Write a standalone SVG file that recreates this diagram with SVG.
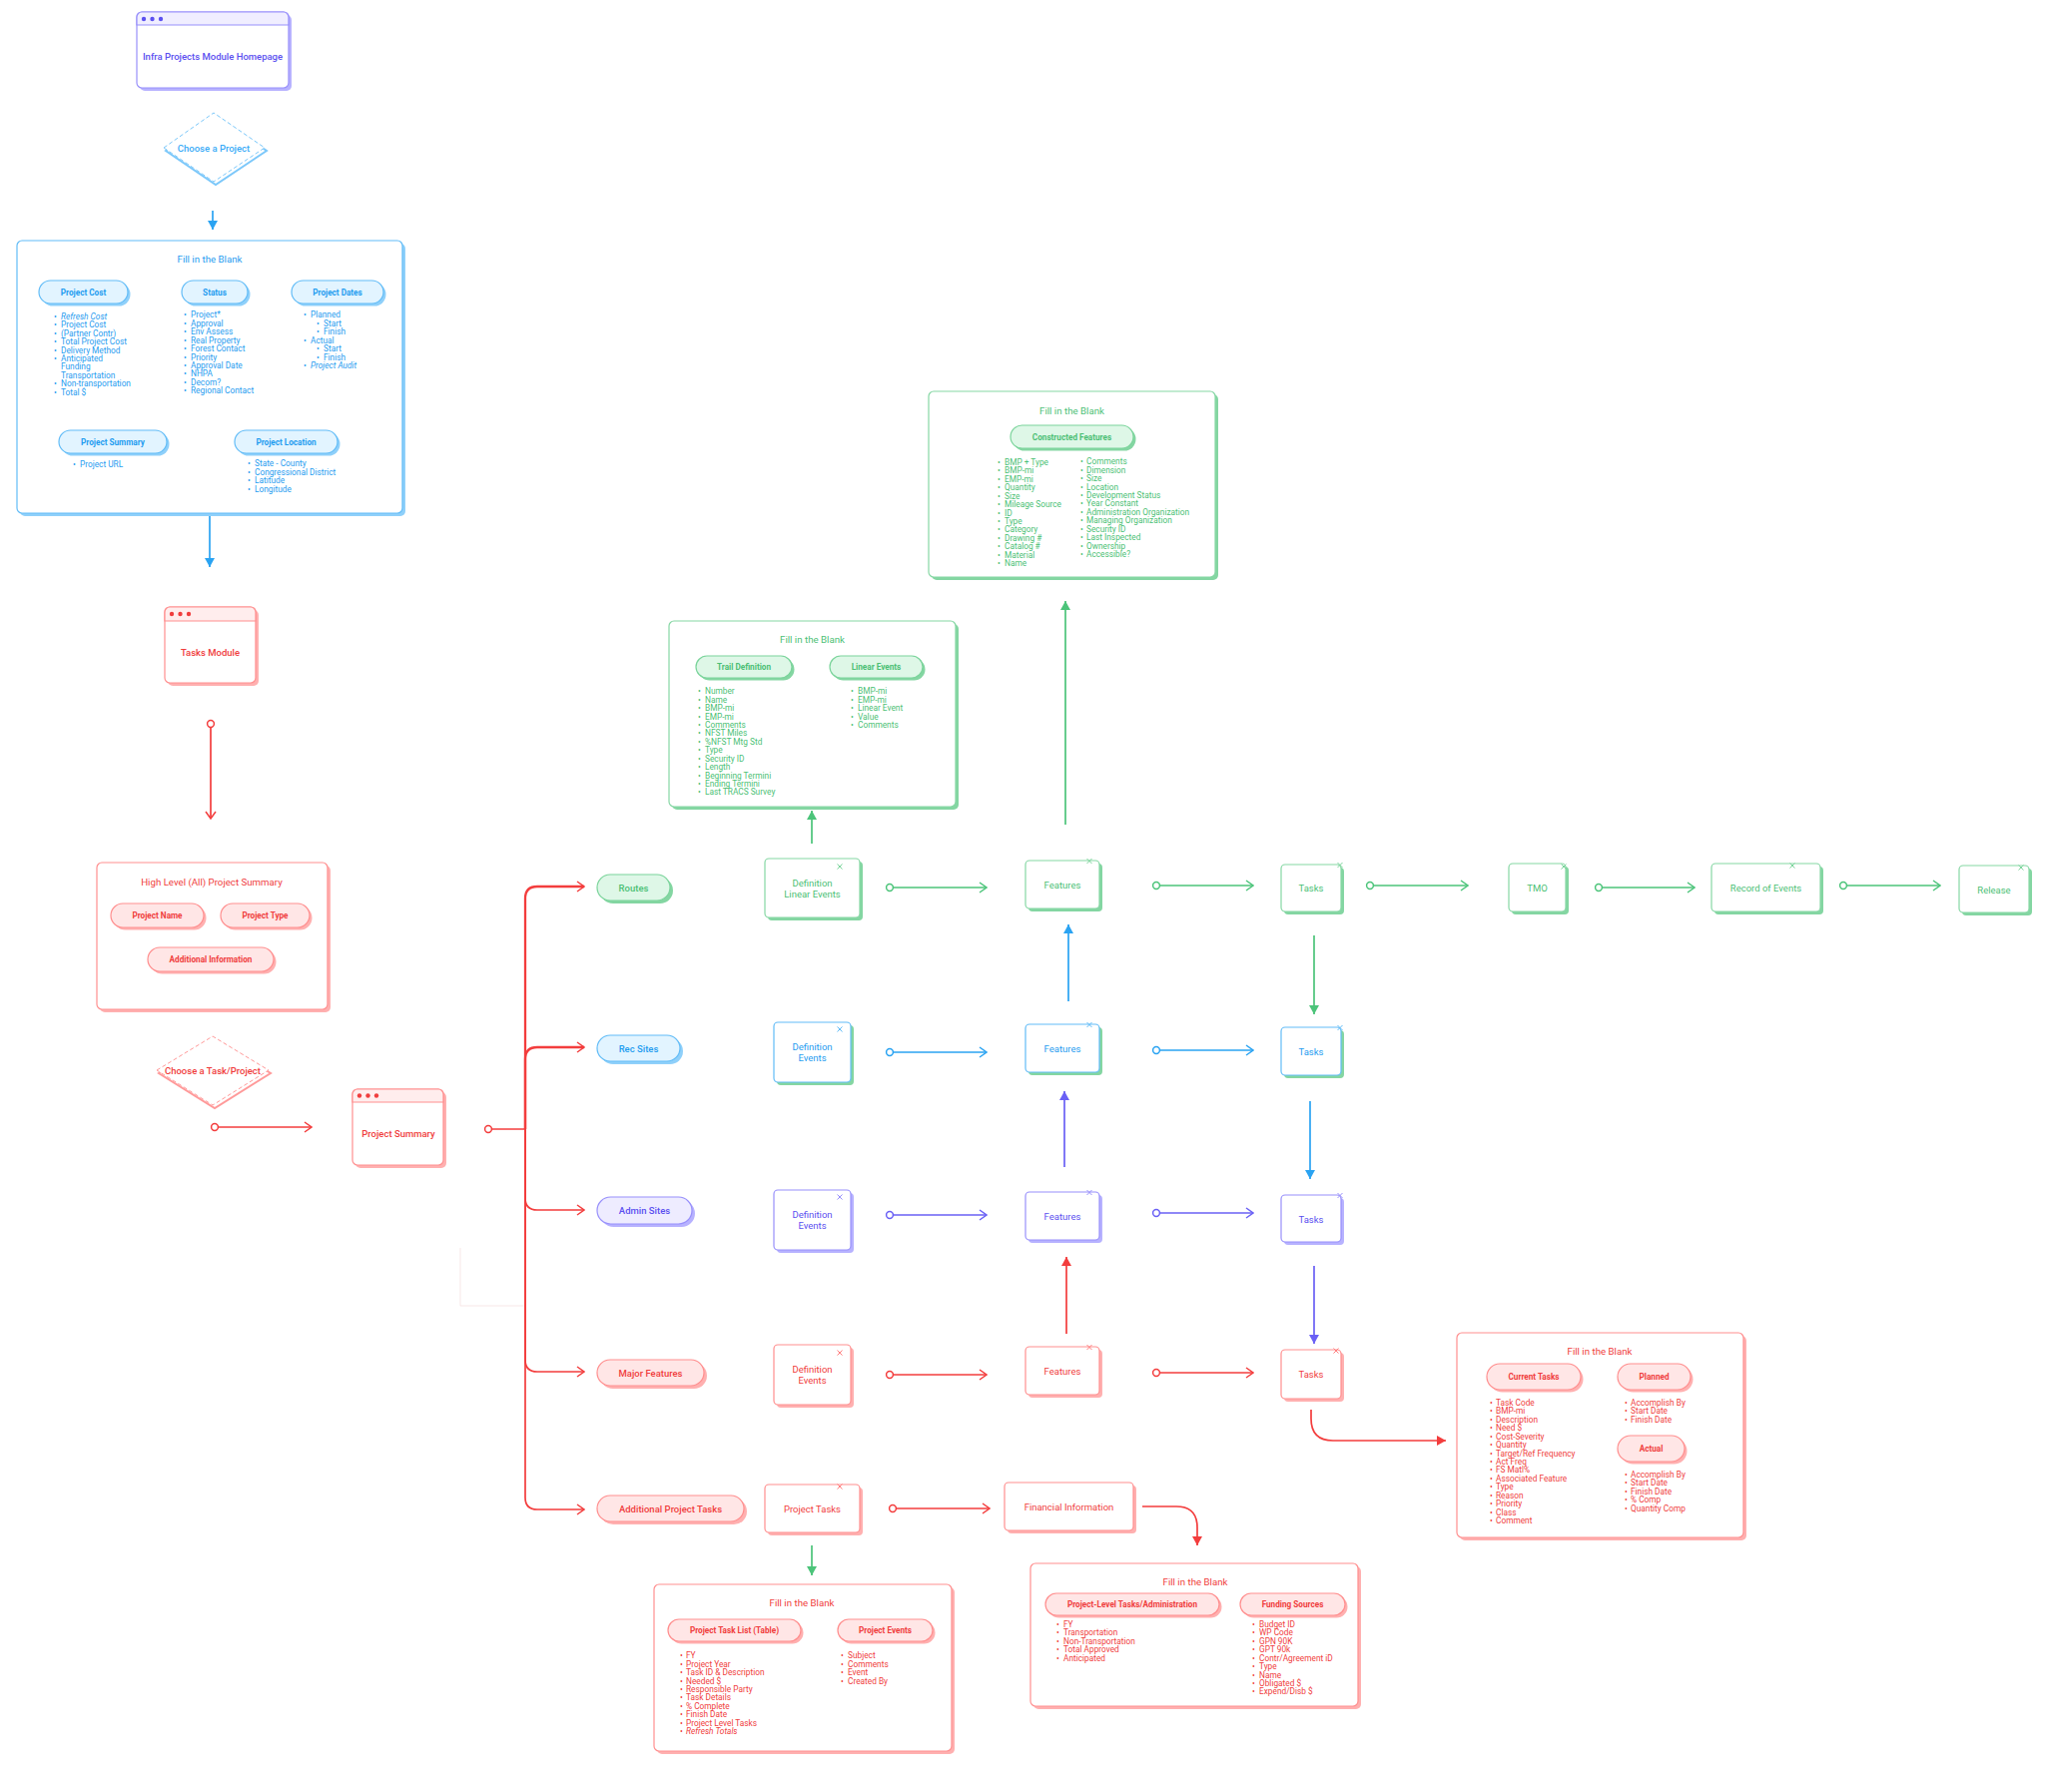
<svg xmlns="http://www.w3.org/2000/svg" width="2048" height="1795" viewBox="0 0 2048 1795">
<style>
text{font-family:Roboto,"Liberation Sans",Arial,sans-serif}
.ttl{font-size:9.7px}
.lbl{font-size:9.5px}
.lbm{font-size:9.5px;font-weight:500}
.pl{font-size:8.2px;font-weight:700}
.li{font-size:8.3px}
.it{font-style:italic}
.tg{fill:#4cbf75}.tb{fill:#1f9cf0}.tp{fill:#5b50f0}.tr{fill:#f03d3d}
.shg{fill:#84d6a2}.shb{fill:#8fd0fa}.shp{fill:#b7b2ff}.shr{fill:#ffb0b0}
.bxg{fill:#fff;stroke:#86d7a4;stroke-width:1.2}
.bxb{fill:#fff;stroke:#62bcf7;stroke-width:1.2}
.bxp{fill:#fff;stroke:#9890fb;stroke-width:1.2}
.bxr{fill:#fff;stroke:#ff8f8f;stroke-width:1.2}
.pfg{fill:#def7e7;stroke:#7bd49b;stroke-width:1.2}
.pfb{fill:#e2f4ff;stroke:#62bcf7;stroke-width:1.2}
.pfp{fill:#eeecff;stroke:#9890fb;stroke-width:1.2}
.pfr{fill:#ffe6e6;stroke:#ff8f8f;stroke-width:1.2}
.xg{stroke:#7bd49b;stroke-width:1;fill:none}
.xb{stroke:#62bcf7;stroke-width:1;fill:none}
.xp{stroke:#9890fb;stroke-width:1;fill:none}
.xr{stroke:#ff7f7f;stroke-width:1;fill:none}
.lg{stroke:#4cc47a}.lb{stroke:#2aa3f2}.lp{stroke:#6a60f5}.lr{stroke:#f33d3d}
#connectors path{fill:none;stroke-width:1.7}
</style>
<defs>
<marker id="oa-g" viewBox="0 0 10 12" refX="9" refY="6" markerWidth="10" markerHeight="12" orient="auto" markerUnits="userSpaceOnUse"><path d="M2,1 L9,6 L2,11" fill="none" stroke="#4cc47a" stroke-width="1.5"/></marker>
<marker id="oa-b" viewBox="0 0 10 12" refX="9" refY="6" markerWidth="10" markerHeight="12" orient="auto" markerUnits="userSpaceOnUse"><path d="M2,1 L9,6 L2,11" fill="none" stroke="#2aa3f2" stroke-width="1.5"/></marker>
<marker id="oa-p" viewBox="0 0 10 12" refX="9" refY="6" markerWidth="10" markerHeight="12" orient="auto" markerUnits="userSpaceOnUse"><path d="M2,1 L9,6 L2,11" fill="none" stroke="#6a60f5" stroke-width="1.5"/></marker>
<marker id="oa-r" viewBox="0 0 10 12" refX="9" refY="6" markerWidth="10" markerHeight="12" orient="auto" markerUnits="userSpaceOnUse"><path d="M2,1 L9,6 L2,11" fill="none" stroke="#f33d3d" stroke-width="1.5"/></marker>
<marker id="fa-g" viewBox="0 0 9 10" refX="9" refY="5" markerWidth="9" markerHeight="10" orient="auto" markerUnits="userSpaceOnUse"><path d="M0,0 L9,5 L0,10 Z" fill="#4cc47a"/></marker>
<marker id="fa-b" viewBox="0 0 9 10" refX="9" refY="5" markerWidth="9" markerHeight="10" orient="auto" markerUnits="userSpaceOnUse"><path d="M0,0 L9,5 L0,10 Z" fill="#2aa3f2"/></marker>
<marker id="fa-p" viewBox="0 0 9 10" refX="9" refY="5" markerWidth="9" markerHeight="10" orient="auto" markerUnits="userSpaceOnUse"><path d="M0,0 L9,5 L0,10 Z" fill="#6a60f5"/></marker>
<marker id="fa-r" viewBox="0 0 9 10" refX="9" refY="5" markerWidth="9" markerHeight="10" orient="auto" markerUnits="userSpaceOnUse"><path d="M0,0 L9,5 L0,10 Z" fill="#f33d3d"/></marker>
<marker id="c-g" viewBox="0 0 10 10" refX="5" refY="5" markerWidth="10" markerHeight="10" markerUnits="userSpaceOnUse"><circle cx="5" cy="5" r="3.4" fill="#fff" stroke="#4cc47a" stroke-width="1.5"/></marker>
<marker id="c-b" viewBox="0 0 10 10" refX="5" refY="5" markerWidth="10" markerHeight="10" markerUnits="userSpaceOnUse"><circle cx="5" cy="5" r="3.4" fill="#fff" stroke="#2aa3f2" stroke-width="1.5"/></marker>
<marker id="c-p" viewBox="0 0 10 10" refX="5" refY="5" markerWidth="10" markerHeight="10" markerUnits="userSpaceOnUse"><circle cx="5" cy="5" r="3.4" fill="#fff" stroke="#6a60f5" stroke-width="1.5"/></marker>
<marker id="c-r" viewBox="0 0 10 10" refX="5" refY="5" markerWidth="10" markerHeight="10" markerUnits="userSpaceOnUse"><circle cx="5" cy="5" r="3.4" fill="#fff" stroke="#f33d3d" stroke-width="1.5"/></marker>
</defs>
<rect width="2048" height="1795" fill="#fff"/>

<!-- faint artifact -->
<g id="artifact">
<rect x="461" y="1250" width="65" height="58" fill="#fff" opacity="0.5"/>
<path d="M461,1250 V1308 H526" fill="none" stroke="#f6e4e4" stroke-width="0.9"/>
</g>

<g id="connectors">
<path class="lb" d="M213,211 V230" marker-end="url(#fa-b)"/>
<path class="lb" d="M210,517 V568" marker-end="url(#fa-b)"/>
<path class="lr" d="M211,725 V820" marker-start="url(#c-r)" marker-end="url(#oa-r)"/>
<path class="lr" d="M215,1129 H312" marker-start="url(#c-r)" marker-end="url(#oa-r)"/>
<path class="lr" d="M489,1131 H526" marker-start="url(#c-r)"/>
<path class="lr" style="stroke-width:2.3" d="M526,1131 V900 Q526,888 538,888 H585" marker-end="url(#oa-r)"/>
<path class="lr" style="stroke-width:2.3" d="M526,1131 V1061 Q526,1049 538,1049 H585" marker-end="url(#oa-r)"/>
<path class="lr" d="M526,1131 V1200 Q526,1212 538,1212 H585" marker-end="url(#oa-r)"/>
<path class="lr" d="M526,1131 V1362 Q526,1374 538,1374 H585" marker-end="url(#oa-r)"/>
<path class="lr" d="M526,1131 V1500 Q526,1512 538,1512 H585" marker-end="url(#oa-r)"/>
<path class="lg" d="M813,845 V812" marker-end="url(#fa-g)"/>
<path class="lg" d="M1067,826 V602" marker-end="url(#fa-g)"/>
<path class="lg" d="M891,889 H988" marker-start="url(#c-g)" marker-end="url(#oa-g)"/>
<path class="lg" d="M1158,887 H1255" marker-start="url(#c-g)" marker-end="url(#oa-g)"/>
<path class="lg" d="M1372,887 H1470" marker-start="url(#c-g)" marker-end="url(#oa-g)"/>
<path class="lg" d="M1601,889 H1697" marker-start="url(#c-g)" marker-end="url(#oa-g)"/>
<path class="lg" d="M1846,887 H1943" marker-start="url(#c-g)" marker-end="url(#oa-g)"/>
<path class="lb" d="M891,1054 H988" marker-start="url(#c-b)" marker-end="url(#oa-b)"/>
<path class="lb" d="M1158,1052 H1255" marker-start="url(#c-b)" marker-end="url(#oa-b)"/>
<path class="lp" d="M891,1217 H988" marker-start="url(#c-p)" marker-end="url(#oa-p)"/>
<path class="lp" d="M1158,1215 H1255" marker-start="url(#c-p)" marker-end="url(#oa-p)"/>
<path class="lr" d="M891,1377 H988" marker-start="url(#c-r)" marker-end="url(#oa-r)"/>
<path class="lr" d="M1158,1375 H1255" marker-start="url(#c-r)" marker-end="url(#oa-r)"/>
<path class="lr" d="M894,1511 H991" marker-start="url(#c-r)" marker-end="url(#oa-r)"/>
<path class="lb" d="M1070,1003 V926" marker-end="url(#fa-b)"/>
<path class="lp" d="M1066,1169 V1093" marker-end="url(#fa-p)"/>
<path class="lr" d="M1068,1336 V1259" marker-end="url(#fa-r)"/>
<path class="lg" d="M1316,937 V1016" marker-end="url(#fa-g)"/>
<path class="lb" d="M1312,1103 V1181" marker-end="url(#fa-b)"/>
<path class="lp" d="M1316,1268 V1346" marker-end="url(#fa-p)"/>
<path class="lr" d="M1313,1412 V1421 Q1313,1443 1335,1443 H1448" marker-end="url(#fa-r)"/>
<path class="lr" d="M1144,1509 H1178 Q1199,1509 1199,1530 V1548" marker-end="url(#fa-r)"/>
<path class="lg" d="M813,1548 V1578" marker-end="url(#fa-g)"/>
</g>

<g id="homepage">
<rect x="140" y="15" width="152" height="76" rx="5" class="shp"/>
<rect x="137" y="12" width="152" height="76" rx="5" class="bxp"/>
<path d="M137,25 V17 A5,5 0 0 1 142,12 H284 A5,5 0 0 1 289,17 V25 Z" fill="#f0eeff" stroke="#9890fb" stroke-width="1.2"/>
<circle cx="144" cy="19" r="2.2" fill="#5b50f0"/><circle cx="152.5" cy="19" r="2.2" fill="#5b50f0"/><circle cx="161" cy="19" r="2.2" fill="#5b50f0"/>
<text x="213" y="60" text-anchor="middle" class="lbm tp">Infra Projects Module Homepage</text>
</g>

<g id="choose-project">
<polygon points="166,151 216,116 267,151 216,185" fill="none" stroke="#7cc8fa" stroke-width="2"/>
<polygon points="164,148 214,113 265,148 214,182" fill="#fff" stroke="#7cc8fa" stroke-width="1" stroke-dasharray="4 2.5"/>
<text x="214" y="151.5" text-anchor="middle" class="lbm" fill="#3aabf7">Choose a Project</text>
</g>

<g id="fill-blank-project">
<rect x="20" y="244" width="386" height="273" rx="5" class="shb"/>
<rect x="17" y="241" width="386" height="273" rx="5" class="bxb"/>
<text x="210" y="262.5" text-anchor="middle" class="ttl tb">Fill in the Blank</text>
<rect x="41.5" y="283.5" width="89" height="23" rx="11.5" class="shb"/>
<rect x="39" y="281" width="89" height="23" rx="11.5" class="pfb"/>
<text x="83.5" y="295.5" text-anchor="middle" class="pl tb">Project Cost</text>
<rect x="184.5" y="283.5" width="66" height="23" rx="11.5" class="shb"/>
<rect x="182" y="281" width="66" height="23" rx="11.5" class="pfb"/>
<text x="215" y="295.5" text-anchor="middle" class="pl tb">Status</text>
<rect x="294.5" y="283.5" width="92" height="23" rx="11.5" class="shb"/>
<rect x="292" y="281" width="92" height="23" rx="11.5" class="pfb"/>
<text x="338" y="295.5" text-anchor="middle" class="pl tb">Project Dates</text>
<rect x="61.5" y="433.5" width="108" height="23" rx="11.5" class="shb"/>
<rect x="59" y="431" width="108" height="23" rx="11.5" class="pfb"/>
<text x="113" y="445.5" text-anchor="middle" class="pl tb">Project Summary</text>
<rect x="237.5" y="433.5" width="103" height="23" rx="11.5" class="shb"/>
<rect x="235" y="431" width="103" height="23" rx="11.5" class="pfb"/>
<text x="286.5" y="445.5" text-anchor="middle" class="pl tb">Project Location</text>
<text class="li tb"><tspan x="54" y="319.7">•</tspan><tspan x="61" class="it">Refresh Cost</tspan><tspan x="54" y="328.1">•</tspan><tspan x="61">Project Cost</tspan><tspan x="54" y="336.6">•</tspan><tspan x="61">(Partner Contr)</tspan><tspan x="54" y="345">•</tspan><tspan x="61">Total Project Cost</tspan><tspan x="54" y="353.5">•</tspan><tspan x="61">Delivery Method</tspan><tspan x="54" y="361.9">•</tspan><tspan x="61">Anticipated</tspan><tspan x="61" y="370.3">Funding</tspan><tspan x="61" y="378.8">Transportation</tspan><tspan x="54" y="387.2">•</tspan><tspan x="61">Non-transportation</tspan><tspan x="54" y="395.7">•</tspan><tspan x="61">Total $</tspan></text>
<text class="li tb"><tspan x="184" y="318.3">•</tspan><tspan x="191">Project*</tspan><tspan x="184" y="326.7">•</tspan><tspan x="191">Approval</tspan><tspan x="184" y="335.2">•</tspan><tspan x="191">Env Assess</tspan><tspan x="184" y="343.6">•</tspan><tspan x="191">Real Property</tspan><tspan x="184" y="352.1">•</tspan><tspan x="191">Forest Contact</tspan><tspan x="184" y="360.5">•</tspan><tspan x="191">Priority</tspan><tspan x="184" y="368.9">•</tspan><tspan x="191">Approval Date</tspan><tspan x="184" y="377.4">•</tspan><tspan x="191">NHPA</tspan><tspan x="184" y="385.8">•</tspan><tspan x="191">Decom?</tspan><tspan x="184" y="394.3">•</tspan><tspan x="191">Regional Contact</tspan></text>
<text class="li tb"><tspan x="304" y="318.3">•</tspan><tspan x="311">Planned</tspan><tspan x="317" y="326.7">•</tspan><tspan x="324">Start</tspan><tspan x="317" y="335.2">•</tspan><tspan x="324">Finish</tspan><tspan x="304" y="343.6">•</tspan><tspan x="311">Actual</tspan><tspan x="317" y="352.1">•</tspan><tspan x="324">Start</tspan><tspan x="317" y="360.5">•</tspan><tspan x="324">Finish</tspan><tspan x="304" y="368.9">•</tspan><tspan x="311" class="it">Project Audit</tspan></text>
<text class="li tb"><tspan x="73" y="468.3">•</tspan><tspan x="80">Project URL</tspan></text>
<text class="li tb"><tspan x="248" y="467.3">•</tspan><tspan x="255">State - County</tspan><tspan x="248" y="475.7">•</tspan><tspan x="255">Congressional District</tspan><tspan x="248" y="484.2">•</tspan><tspan x="255">Latitude</tspan><tspan x="248" y="492.6">•</tspan><tspan x="255">Longitude</tspan></text>
</g>

<g id="tasks-module">
<rect x="168" y="611" width="91" height="76" rx="5" class="shr"/>
<rect x="165" y="608" width="91" height="76" rx="5" class="bxr"/>
<path d="M165,622 V613 A5,5 0 0 1 170,608 H251 A5,5 0 0 1 256,613 V622 Z" fill="#ffeded" stroke="#ff8f8f" stroke-width="1.2"/>
<circle cx="172" cy="615" r="2.2" fill="#f03d3d"/><circle cx="180.5" cy="615" r="2.2" fill="#f03d3d"/><circle cx="189" cy="615" r="2.2" fill="#f03d3d"/>
<text x="210.5" y="656.5" text-anchor="middle" class="lbm tr">Tasks Module</text>
</g>

<g id="high-level-summary">
<rect x="100" y="867" width="231" height="147" rx="5" class="shr"/>
<rect x="97" y="864" width="231" height="147" rx="5" class="bxr"/>
<text x="212" y="886.5" text-anchor="middle" class="ttl tr">High Level (All) Project Summary</text>
<rect x="113.5" y="907.5" width="93" height="24" rx="12" class="shr"/>
<rect x="111" y="905" width="93" height="24" rx="12" class="pfr"/>
<text x="157.5" y="920" text-anchor="middle" class="pl tr">Project Name</text>
<rect x="223.5" y="907.5" width="89" height="24" rx="12" class="shr"/>
<rect x="221" y="905" width="89" height="24" rx="12" class="pfr"/>
<text x="265.5" y="920" text-anchor="middle" class="pl tr">Project Type</text>
<rect x="150.5" y="951.5" width="126" height="24" rx="12" class="shr"/>
<rect x="148" y="949" width="126" height="24" rx="12" class="pfr"/>
<text x="211" y="964" text-anchor="middle" class="pl tr">Additional Information</text>
</g>

<g id="choose-task">
<polygon points="159,1075 215,1041 271,1075 215,1110" fill="none" stroke="#ff9a9a" stroke-width="2"/>
<polygon points="157,1072 213,1038 269,1072 213,1107" fill="#fff" stroke="#ff9a9a" stroke-width="1" stroke-dasharray="4 2.5"/>
<text x="213" y="1076" text-anchor="middle" class="lbm tr">Choose a Task/Project</text>
</g>

<g id="project-summary">
<rect x="356" y="1094" width="91" height="76" rx="5" class="shr"/>
<rect x="353" y="1091" width="91" height="76" rx="5" class="bxr"/>
<path d="M353,1104 V1096 A5,5 0 0 1 358,1091 H439 A5,5 0 0 1 444,1096 V1104 Z" fill="#ffeded" stroke="#ff8f8f" stroke-width="1.2"/>
<circle cx="360" cy="1097.5" r="2.2" fill="#f03d3d"/><circle cx="368.5" cy="1097.5" r="2.2" fill="#f03d3d"/><circle cx="377" cy="1097.5" r="2.2" fill="#f03d3d"/>
<text x="399" y="1138.5" text-anchor="middle" class="lbm tr">Project Summary</text>
</g>

<g id="pill-routes">
<rect x="601" y="879" width="73" height="26" rx="13" class="shg"/>
<rect x="598" y="876" width="73" height="26" rx="13" class="pfg"/>
<text x="634.5" y="892.5" text-anchor="middle" class="lbm tg">Routes</text>
</g>
<g id="pill-rec-sites">
<rect x="601" y="1040" width="83" height="26" rx="13" class="shb"/>
<rect x="598" y="1037" width="83" height="26" rx="13" class="pfb"/>
<text x="639.5" y="1053.5" text-anchor="middle" class="lbm tb">Rec Sites</text>
</g>
<g id="pill-admin-sites">
<rect x="601" y="1202" width="95" height="27" rx="13.5" class="shp"/>
<rect x="598" y="1199" width="95" height="27" rx="13.5" class="pfp"/>
<text x="645.5" y="1216" text-anchor="middle" class="lbm tp">Admin Sites</text>
</g>
<g id="pill-major-features">
<rect x="601" y="1365" width="107" height="26" rx="13" class="shr"/>
<rect x="598" y="1362" width="107" height="26" rx="13" class="pfr"/>
<text x="651.5" y="1378.5" text-anchor="middle" class="lbm tr">Major Features</text>
</g>
<g id="pill-additional-tasks">
<rect x="601" y="1501" width="147" height="26" rx="13" class="shr"/>
<rect x="598" y="1498" width="147" height="26" rx="13" class="pfr"/>
<text x="671.5" y="1514.5" text-anchor="middle" class="lbm tr">Additional Project Tasks</text>
</g>

<g id="def-linear-events">
<rect x="769" y="863" width="95" height="59" rx="4" class="shg"/>
<rect x="766" y="860" width="95" height="59" rx="4" class="bxg"/>
<path class="xg" d="M838.5,865.5 l5,5 M843.5,865.5 l-5,5"/>
<text x="813.5" y="887.5" text-anchor="middle" class="lbl tg">Definition</text>
<text x="813.5" y="899" text-anchor="middle" class="lbl tg">Linear Events</text>
</g>
<g id="def-events-rec">
<rect x="778" y="1027" width="77" height="60" rx="4" class="shg"/>
<rect x="775" y="1024" width="77" height="60" rx="4" class="bxb"/>
<path class="xb" d="M838.5,1028.5 l5,5 M843.5,1028.5 l-5,5"/>
<text x="813.5" y="1051.5" text-anchor="middle" class="lbl tb">Definition</text>
<text x="813.5" y="1063" text-anchor="middle" class="lbl tb">Events</text>
</g>
<g id="def-events-admin">
<rect x="778" y="1195" width="77" height="60" rx="4" class="shp"/>
<rect x="775" y="1192" width="77" height="60" rx="4" class="bxp"/>
<path class="xp" d="M838.5,1196.5 l5,5 M843.5,1196.5 l-5,5"/>
<text x="813.5" y="1219.5" text-anchor="middle" class="lbl tp">Definition</text>
<text x="813.5" y="1231" text-anchor="middle" class="lbl tp">Events</text>
</g>
<g id="def-events-major">
<rect x="778" y="1350" width="77" height="60" rx="4" class="shr"/>
<rect x="775" y="1347" width="77" height="60" rx="4" class="bxr"/>
<path class="xr" d="M838.5,1352.5 l5,5 M843.5,1352.5 l-5,5"/>
<text x="813.5" y="1374.5" text-anchor="middle" class="lbl tr">Definition</text>
<text x="813.5" y="1386" text-anchor="middle" class="lbl tr">Events</text>
</g>
<g id="project-tasks">
<rect x="769" y="1490" width="95" height="48" rx="4" class="shr"/>
<rect x="766" y="1487" width="95" height="48" rx="4" class="bxr"/>
<path class="xr" d="M838.5,1486.5 l5,5 M843.5,1486.5 l-5,5"/>
<text x="813.5" y="1514.5" text-anchor="middle" class="lbl tr">Project Tasks</text>
</g>

<g id="features-routes">
<rect x="1030" y="865" width="74" height="48" rx="4" class="shg"/>
<rect x="1027" y="862" width="74" height="48" rx="4" class="bxg"/>
<path class="xg" d="M1088.5,860 l5,5 M1093.5,860 l-5,5"/>
<text x="1064" y="889.5" text-anchor="middle" class="lbl tg">Features</text>
</g>
<g id="features-rec">
<rect x="1030" y="1029" width="74" height="48" rx="4" class="shg"/>
<rect x="1027" y="1026" width="74" height="48" rx="4" class="bxb"/>
<path class="xb" d="M1088.5,1024 l5,5 M1093.5,1024 l-5,5"/>
<text x="1064" y="1053.5" text-anchor="middle" class="lbl tb">Features</text>
</g>
<g id="features-admin">
<rect x="1030" y="1197" width="74" height="48" rx="4" class="shp"/>
<rect x="1027" y="1194" width="74" height="48" rx="4" class="bxp"/>
<path class="xp" d="M1088.5,1192 l5,5 M1093.5,1192 l-5,5"/>
<text x="1064" y="1221.5" text-anchor="middle" class="lbl tp">Features</text>
</g>
<g id="features-major">
<rect x="1030" y="1352" width="74" height="48" rx="4" class="shr"/>
<rect x="1027" y="1349" width="74" height="48" rx="4" class="bxr"/>
<path class="xr" d="M1088.5,1347 l5,5 M1093.5,1347 l-5,5"/>
<text x="1064" y="1376.5" text-anchor="middle" class="lbl tr">Features</text>
</g>

<g id="tasks-routes">
<rect x="1286" y="869" width="60" height="47" rx="4" class="shg"/>
<rect x="1283" y="866" width="60" height="47" rx="4" class="bxg"/>
<path class="xg" d="M1339.5,864 l5,5 M1344.5,864 l-5,5"/>
<text x="1313" y="892.5" text-anchor="middle" class="lbl tg">Tasks</text>
</g>
<g id="tasks-rec">
<rect x="1286" y="1032" width="60" height="48" rx="4" class="shg"/>
<rect x="1283" y="1029" width="60" height="48" rx="4" class="bxb"/>
<path class="xb" d="M1339.5,1027 l5,5 M1344.5,1027 l-5,5"/>
<text x="1313" y="1056.5" text-anchor="middle" class="lbl tb">Tasks</text>
</g>
<g id="tasks-admin">
<rect x="1286" y="1200" width="60" height="47" rx="4" class="shp"/>
<rect x="1283" y="1197" width="60" height="47" rx="4" class="bxp"/>
<path class="xp" d="M1339.5,1195 l5,5 M1344.5,1195 l-5,5"/>
<text x="1313" y="1224.5" text-anchor="middle" class="lbl tp">Tasks</text>
</g>
<g id="tasks-major">
<rect x="1286" y="1355" width="60" height="49" rx="4" class="shr"/>
<rect x="1283" y="1352" width="60" height="49" rx="4" class="bxr"/>
<path class="xr" d="M1335.5,1350.5 l5,5 M1340.5,1350.5 l-5,5"/>
<text x="1313" y="1379.5" text-anchor="middle" class="lbl tr">Tasks</text>
</g>

<g id="tmo">
<rect x="1514" y="868" width="57" height="48" rx="4" class="shg"/>
<rect x="1511" y="865" width="57" height="48" rx="4" class="bxg"/>
<path class="xg" d="M1563.5,865.5 l5,5 M1568.5,865.5 l-5,5"/>
<text x="1539.5" y="892.5" text-anchor="middle" class="lbl tg">TMO</text>
</g>
<g id="record-of-events">
<rect x="1717" y="868" width="109" height="48" rx="4" class="shg"/>
<rect x="1714" y="865" width="109" height="48" rx="4" class="bxg"/>
<path class="xg" d="M1792.5,864.5 l5,5 M1797.5,864.5 l-5,5"/>
<text x="1768.5" y="892.5" text-anchor="middle" class="lbl tg">Record of Events</text>
</g>
<g id="release">
<rect x="1965" y="870" width="70" height="47" rx="4" class="shg"/>
<rect x="1962" y="867" width="70" height="47" rx="4" class="bxg"/>
<path class="xg" d="M2021.5,866.5 l5,5 M2026.5,866.5 l-5,5"/>
<text x="1997" y="894.5" text-anchor="middle" class="lbl tg">Release</text>
</g>

<g id="financial-information">
<rect x="1009" y="1488" width="129" height="48" rx="4" class="shr"/>
<rect x="1006" y="1485" width="129" height="48" rx="4" class="bxr"/>
<text x="1070.5" y="1512.5" text-anchor="middle" class="lbl tr">Financial Information</text>
</g>

<g id="fill-blank-trail">
<rect x="673" y="625" width="287" height="186" rx="5" class="shg"/>
<rect x="670" y="622" width="287" height="186" rx="5" class="bxg"/>
<text x="813.5" y="643.5" text-anchor="middle" class="ttl tg">Fill in the Blank</text>
<rect x="699.5" y="659.5" width="96" height="22" rx="11" class="shg"/>
<rect x="697" y="657" width="96" height="22" rx="11" class="pfg"/>
<text x="745" y="671" text-anchor="middle" class="pl tg">Trail Definition</text>
<rect x="833.5" y="659.5" width="93" height="22" rx="11" class="shg"/>
<rect x="831" y="657" width="93" height="22" rx="11" class="pfg"/>
<text x="877.5" y="671" text-anchor="middle" class="pl tg">Linear Events</text>
<text class="li tg"><tspan x="699" y="695.3">•</tspan><tspan x="706">Number</tspan><tspan x="699" y="703.7">•</tspan><tspan x="706">Name</tspan><tspan x="699" y="712.1">•</tspan><tspan x="706">BMP-mi</tspan><tspan x="699" y="720.6">•</tspan><tspan x="706">EMP-mi</tspan><tspan x="699" y="729">•</tspan><tspan x="706">Comments</tspan><tspan x="699" y="737.4">•</tspan><tspan x="706">NFST Miles</tspan><tspan x="699" y="745.8">•</tspan><tspan x="706">%NFST Mtg Std</tspan><tspan x="699" y="754.2">•</tspan><tspan x="706">Type</tspan><tspan x="699" y="762.7">•</tspan><tspan x="706">Security ID</tspan><tspan x="699" y="771.1">•</tspan><tspan x="706">Length</tspan><tspan x="699" y="779.5">•</tspan><tspan x="706">Beginning Termini</tspan><tspan x="699" y="787.9">•</tspan><tspan x="706">Ending Termini</tspan><tspan x="699" y="796.3">•</tspan><tspan x="706">Last TRACS Survey</tspan></text>
<text class="li tg"><tspan x="852" y="695.3">•</tspan><tspan x="859">BMP-mi</tspan><tspan x="852" y="703.7">•</tspan><tspan x="859">EMP-mi</tspan><tspan x="852" y="712.1">•</tspan><tspan x="859">Linear Event</tspan><tspan x="852" y="720.6">•</tspan><tspan x="859">Value</tspan><tspan x="852" y="729">•</tspan><tspan x="859">Comments</tspan></text>
</g>

<g id="fill-blank-constructed">
<rect x="933" y="395" width="287" height="186" rx="5" class="shg"/>
<rect x="930" y="392" width="287" height="186" rx="5" class="bxg"/>
<text x="1073.5" y="414.5" text-anchor="middle" class="ttl tg">Fill in the Blank</text>
<rect x="1014.5" y="428.5" width="123" height="23" rx="11.5" class="shg"/>
<rect x="1012" y="426" width="123" height="23" rx="11.5" class="pfg"/>
<text x="1073.5" y="440.5" text-anchor="middle" class="pl tg">Constructed Features</text>
<text class="li tg"><tspan x="999" y="466">•</tspan><tspan x="1006">BMP + Type</tspan><tspan x="999" y="474.4">•</tspan><tspan x="1006">BMP-mi</tspan><tspan x="999" y="482.8">•</tspan><tspan x="1006">EMP-mi</tspan><tspan x="999" y="491.3">•</tspan><tspan x="1006">Quantity</tspan><tspan x="999" y="499.7">•</tspan><tspan x="1006">Size</tspan><tspan x="999" y="508.1">•</tspan><tspan x="1006">Mileage Source</tspan><tspan x="999" y="516.5">•</tspan><tspan x="1006">ID</tspan><tspan x="999" y="524.9">•</tspan><tspan x="1006">Type</tspan><tspan x="999" y="533.4">•</tspan><tspan x="1006">Category</tspan><tspan x="999" y="541.8">•</tspan><tspan x="1006">Drawing #</tspan><tspan x="999" y="550.2">•</tspan><tspan x="1006">Catalog #</tspan><tspan x="999" y="558.6">•</tspan><tspan x="1006">Material</tspan><tspan x="999" y="567">•</tspan><tspan x="1006">Name</tspan></text>
<text class="li tg"><tspan x="1082" y="465.3">•</tspan><tspan x="1088">Comments</tspan><tspan x="1082" y="473.7">•</tspan><tspan x="1088">Dimension</tspan><tspan x="1082" y="482.1">•</tspan><tspan x="1088">Size</tspan><tspan x="1082" y="490.6">•</tspan><tspan x="1088">Location</tspan><tspan x="1082" y="499">•</tspan><tspan x="1088">Development Status</tspan><tspan x="1082" y="507.4">•</tspan><tspan x="1088">Year Constant</tspan><tspan x="1082" y="515.8">•</tspan><tspan x="1088">Administration Organization</tspan><tspan x="1082" y="524.2">•</tspan><tspan x="1088">Managing Organization</tspan><tspan x="1082" y="532.7">•</tspan><tspan x="1088">Security ID</tspan><tspan x="1082" y="541.1">•</tspan><tspan x="1088">Last Inspected</tspan><tspan x="1082" y="549.5">•</tspan><tspan x="1088">Ownership</tspan><tspan x="1082" y="557.9">•</tspan><tspan x="1088">Accessible?</tspan></text>
</g>

<g id="fill-blank-task-list">
<rect x="658" y="1590" width="298" height="167" rx="5" class="shr"/>
<rect x="655" y="1587" width="298" height="167" rx="5" class="bxr"/>
<text x="803" y="1608.5" text-anchor="middle" class="ttl tr">Fill in the Blank</text>
<rect x="671.5" y="1624.5" width="133" height="22" rx="11" class="shr"/>
<rect x="669" y="1622" width="133" height="22" rx="11" class="pfr"/>
<text x="735.5" y="1636" text-anchor="middle" class="pl tr">Project Task List (Table)</text>
<rect x="841.5" y="1624.5" width="95" height="22" rx="11" class="shr"/>
<rect x="839" y="1622" width="95" height="22" rx="11" class="pfr"/>
<text x="886.5" y="1636" text-anchor="middle" class="pl tr">Project Events</text>
<text class="li tr"><tspan x="681" y="1661.3">•</tspan><tspan x="687">FY</tspan><tspan x="681" y="1669.7">•</tspan><tspan x="687">Project Year</tspan><tspan x="681" y="1678.1">•</tspan><tspan x="687">Task ID &amp; Description</tspan><tspan x="681" y="1686.6">•</tspan><tspan x="687">Needed $</tspan><tspan x="681" y="1695">•</tspan><tspan x="687">Responsible Party</tspan><tspan x="681" y="1703.4">•</tspan><tspan x="687">Task Details</tspan><tspan x="681" y="1711.8">•</tspan><tspan x="687">% Complete</tspan><tspan x="681" y="1720.2">•</tspan><tspan x="687">Finish Date</tspan><tspan x="681" y="1728.7">•</tspan><tspan x="687">Project Level Tasks</tspan><tspan x="681" y="1737.1">•</tspan><tspan x="687" class="it">Refresh Totals</tspan></text>
<text class="li tr"><tspan x="842" y="1661.3">•</tspan><tspan x="849">Subject</tspan><tspan x="842" y="1669.7">•</tspan><tspan x="849">Comments</tspan><tspan x="842" y="1678.1">•</tspan><tspan x="849">Event</tspan><tspan x="842" y="1686.6">•</tspan><tspan x="849">Created By</tspan></text>
</g>

<g id="fill-blank-funding">
<rect x="1035" y="1569" width="328" height="143" rx="5" class="shr"/>
<rect x="1032" y="1566" width="328" height="143" rx="5" class="bxr"/>
<text x="1197" y="1587.5" text-anchor="middle" class="ttl tr">Fill in the Blank</text>
<rect x="1049.5" y="1598.5" width="174" height="22" rx="11" class="shr"/>
<rect x="1047" y="1596" width="174" height="22" rx="11" class="pfr"/>
<text x="1134" y="1610" text-anchor="middle" class="pl tr">Project-Level Tasks/Administration</text>
<rect x="1244.5" y="1598.5" width="105" height="22" rx="11" class="shr"/>
<rect x="1242" y="1596" width="105" height="22" rx="11" class="pfr"/>
<text x="1294.5" y="1610" text-anchor="middle" class="pl tr">Funding Sources</text>
<text class="li tr"><tspan x="1058" y="1630">•</tspan><tspan x="1065">FY</tspan><tspan x="1058" y="1638.4">•</tspan><tspan x="1065">Transportation</tspan><tspan x="1058" y="1646.8">•</tspan><tspan x="1065">Non-Transportation</tspan><tspan x="1058" y="1655.3">•</tspan><tspan x="1065">Total Approved</tspan><tspan x="1058" y="1663.7">•</tspan><tspan x="1065">Anticipated</tspan></text>
<text class="li tr"><tspan x="1254" y="1630">•</tspan><tspan x="1261">Budget ID</tspan><tspan x="1254" y="1638.4">•</tspan><tspan x="1261">WP Code</tspan><tspan x="1254" y="1646.8">•</tspan><tspan x="1261">GPN 90K</tspan><tspan x="1254" y="1655.3">•</tspan><tspan x="1261">GPT 90k</tspan><tspan x="1254" y="1663.7">•</tspan><tspan x="1261">Contr/Agreement iD</tspan><tspan x="1254" y="1672.1">•</tspan><tspan x="1261">Type</tspan><tspan x="1254" y="1680.5">•</tspan><tspan x="1261">Name</tspan><tspan x="1254" y="1688.9">•</tspan><tspan x="1261">Obligated $</tspan><tspan x="1254" y="1697.4">•</tspan><tspan x="1261">Expend/Disb $</tspan></text>
</g>

<g id="fill-blank-current-tasks">
<rect x="1462" y="1338" width="287" height="205" rx="5" class="shr"/>
<rect x="1459" y="1335" width="287" height="205" rx="5" class="bxr"/>
<text x="1602" y="1356.5" text-anchor="middle" class="ttl tr">Fill in the Blank</text>
<rect x="1491.5" y="1368.5" width="94" height="26" rx="13" class="shr"/>
<rect x="1489" y="1366" width="94" height="26" rx="13" class="pfr"/>
<text x="1536" y="1382" text-anchor="middle" class="pl tr">Current Tasks</text>
<rect x="1622.5" y="1368.5" width="73" height="26" rx="13" class="shr"/>
<rect x="1620" y="1366" width="73" height="26" rx="13" class="pfr"/>
<text x="1656.5" y="1382" text-anchor="middle" class="pl tr">Planned</text>
<rect x="1622.5" y="1440.5" width="67" height="26" rx="13" class="shr"/>
<rect x="1620" y="1438" width="67" height="26" rx="13" class="pfr"/>
<text x="1653.5" y="1454" text-anchor="middle" class="pl tr">Actual</text>
<text class="li tr"><tspan x="1492" y="1408">•</tspan><tspan x="1498">Task Code</tspan><tspan x="1492" y="1416.4">•</tspan><tspan x="1498">BMP-mi</tspan><tspan x="1492" y="1424.8">•</tspan><tspan x="1498">Description</tspan><tspan x="1492" y="1433.3">•</tspan><tspan x="1498">Need $</tspan><tspan x="1492" y="1441.7">•</tspan><tspan x="1498">Cost-Severity</tspan><tspan x="1492" y="1450.1">•</tspan><tspan x="1498">Quantity</tspan><tspan x="1492" y="1458.5">•</tspan><tspan x="1498">Target/Ref Frequency</tspan><tspan x="1492" y="1466.9">•</tspan><tspan x="1498">Act Freq</tspan><tspan x="1492" y="1475.4">•</tspan><tspan x="1498">FS Matl%</tspan><tspan x="1492" y="1483.8">•</tspan><tspan x="1498">Associated Feature</tspan><tspan x="1492" y="1492.2">•</tspan><tspan x="1498">Type</tspan><tspan x="1492" y="1500.6">•</tspan><tspan x="1498">Reason</tspan><tspan x="1492" y="1509">•</tspan><tspan x="1498">Priority</tspan><tspan x="1492" y="1517.5">•</tspan><tspan x="1498">Class</tspan><tspan x="1492" y="1525.9">•</tspan><tspan x="1498">Comment</tspan></text>
<text class="li tr"><tspan x="1627" y="1408">•</tspan><tspan x="1633">Accomplish By</tspan><tspan x="1627" y="1416.4">•</tspan><tspan x="1633">Start Date</tspan><tspan x="1627" y="1424.8">•</tspan><tspan x="1633">Finish Date</tspan></text>
<text class="li tr"><tspan x="1627" y="1480">•</tspan><tspan x="1633">Accomplish By</tspan><tspan x="1627" y="1488.4">•</tspan><tspan x="1633">Start Date</tspan><tspan x="1627" y="1496.8">•</tspan><tspan x="1633">Finish Date</tspan><tspan x="1627" y="1505.3">•</tspan><tspan x="1633">% Comp</tspan><tspan x="1627" y="1513.7">•</tspan><tspan x="1633">Quantity Comp</tspan></text>
</g>
</svg>
